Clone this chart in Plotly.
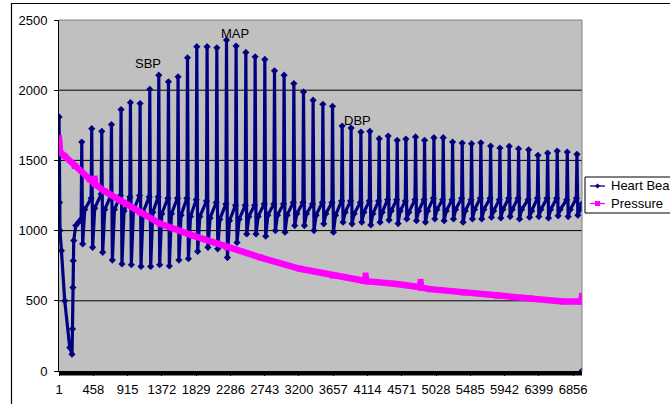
import plotly.graph_objects as go

# ---------------- data ----------------
x_tick_labels = ["1", "458", "915", "1372", "1829", "2286", "2743", "3200", "3657",
                 "4114", "4571", "5028", "5485", "5942", "6399", "6856"]
n_samples = 6974
y_tick_values = [0, 500, 1000, 1500, 2000, 2500]

# Heart beat: opening segment (cuff inflation drop and recovery)
start_idx = [1, 8, 14, 33, 77, 144, 174, 180, 186, 190, 197, 224, 262]
start_val = [1810, 1200, 1000, 857, 500, 167, 119, 300, 595, 786, 929, 1036, 1060]

# Heart beat: one entry per pulse
beat_idx = [304, 437, 571, 700, 828, 953, 1082, 1211, 1331, 1460, 1588, 1714, 1838,
            1975, 2105, 2234, 2362, 2492, 2616, 2745, 2874, 3002, 3132, 3261, 3389,
            3519, 3648, 3776, 3896, 4026, 4146, 4270, 4390, 4510, 4626, 4755, 4875,
            5000, 5124, 5249, 5377, 5502, 5626, 5756, 5880, 6004, 6129, 6263, 6387,
            6516, 6644, 6778, 6907]
beat_peak = [1631, 1726, 1707, 1755, 1862, 1912, 1905, 2007, 2107, 2060, 2095, 2231,
             2310, 2310, 2302, 2357, 2314, 2269, 2238, 2219, 2138, 2107, 2048, 1988,
             1929, 1900, 1886, 1745, 1731, 1702, 1707, 1655, 1674, 1643, 1652, 1667,
             1643, 1662, 1662, 1631, 1624, 1619, 1626, 1602, 1588, 1600, 1583, 1576,
             1536, 1552, 1567, 1560, 1543]
beat_trough = [905, 881, 845, 790, 762, 757, 745, 745, 757, 748, 790, 800, 852, 881,
               870, 808, 915, 976, 976, 960, 1000, 988, 1036, 1036, 1000, 1048, 988,
               1060, 1048, 1060, 1040, 1060, 1075, 1050, 1083, 1071, 1060, 1083, 1071,
               1083, 1060, 1083, 1083, 1095, 1090, 1100, 1083, 1095, 1100, 1090, 1105,
               1100, 1110]
beat_base_hi = [1080, 1230, 1260, 1250, 1250, 1240, 1250, 1240, 1240, 1230, 1230, 1230,
                1220, 1210, 1200, 1190, 1180, 1180, 1180, 1190, 1190, 1190, 1200, 1200,
                1190, 1200, 1200, 1210, 1210, 1200, 1210, 1210, 1220, 1220, 1210, 1220,
                1220, 1230, 1220, 1220, 1230, 1220, 1230, 1230, 1220, 1230, 1230, 1220,
                1230, 1230, 1230, 1220, 1230]
beat_base_lo = [1150, 1160, 1150, 1150, 1140, 1140, 1130, 1130, 1120, 1120, 1110, 1100,
                1100, 1090, 1080, 1070, 1080, 1100, 1100, 1110, 1110, 1110, 1120, 1120,
                1110, 1120, 1110, 1130, 1120, 1130, 1120, 1130, 1140, 1140, 1130, 1140,
                1140, 1150, 1140, 1150, 1140, 1150, 1150, 1140, 1150, 1150, 1150, 1140,
                1150, 1150, 1150, 1150, 1150]
end_idx = [6973, 6974]
end_val = [1190, 0]

# Pressure (cuff deflation curve)
pressure_idx = [1, 6, 14, 77, 210, 410, 474, 477, 480, 610, 811, 1078, 1345, 1785,
                2239, 2679, 3213, 3653, 4053, 4086, 4089, 4092, 4506, 4819, 4822, 4825,
                4946, 5386, 5840, 6280, 6721, 6961, 6971, 6974]
pressure_val = [1660, 1600, 1560, 1530, 1460, 1365, 1335, 1371, 1332, 1280, 1215, 1130,
                1050, 964, 881, 810, 728, 679, 643, 641, 680, 640, 619, 596, 635, 595,
                583, 560, 536, 517, 495, 495, 497, 536]

label_text = ["SBP", "MAP", "DBP"]
label_x = [1191, 2345, 3986]
label_y = [2193, 2407, 1787]

# legend labels as visible in the (cropped) reference
legend_names = ["Heart Bea", "Pressure"]

# ---------------- build series ----------------
beat_shape_offsets = [-8, 0, 12, 40]
hx, hy = list(start_idx), list(start_val)
for p, pk, tr, hi, lo in zip(beat_idx, beat_peak, beat_trough, beat_base_hi, beat_base_lo):
    hx += [p + o for o in beat_shape_offsets]
    hy += [hi, pk, tr, lo]
hx += [end_idx[0], None, end_idx[1]]
hy += [end_val[0], None, end_val[1]]

NAVY = "#000080"
PINK = "#FF00FF"
FONT = "Arial, 'Liberation Sans', sans-serif"

fig = go.Figure()
fig.add_trace(go.Scatter(x=hx, y=hy, mode="lines+markers",
                         line=dict(color=NAVY, width=3.2),
                         marker=dict(symbol="diamond", size=5.5, color=NAVY),
                         name="Heart Beat", showlegend=False, connectgaps=False,
                         hoverinfo="skip"))
fig.add_trace(go.Scatter(x=pressure_idx, y=pressure_val, mode="lines+markers",
                         line=dict(color=PINK, width=6.5),
                         marker=dict(symbol="square", size=6, color=PINK),
                         name="Pressure", showlegend=False, hoverinfo="skip"))

# ---------------- layout geometry (pixels) ----------------
W, H = 670, 404
L, R, T, B = 59, 582, 20, 371
PW, PH = R - L, B - T


def px(x):
    return (x - L) / PW


def py(y):
    return (B - y) / PH


shapes = []
for v in y_tick_values[1:-1]:
    shapes.append(dict(type="line", xref="paper", yref="y", x0=0, x1=1, y0=v, y1=v,
                       line=dict(color="black", width=1), layer="below"))
shapes.append(dict(type="line", xref="paper", yref="paper", x0=0, x1=1, y0=1, y1=1,
                   line=dict(color="#808080", width=1), layer="above"))
shapes.append(dict(type="line", xref="paper", yref="paper", x0=1, x1=1, y0=0, y1=1,
                   line=dict(color="#808080", width=1), layer="above"))
shapes.append(dict(type="rect", xref="paper", yref="paper", x0=0, x1=1,
                   y0=py(B + 4.5), y1=0, fillcolor="black", line=dict(width=0),
                   layer="above"))
shapes.append(dict(type="rect", xref="paper", yref="paper", x0=px(11.5), x1=px(720),
                   y0=py(450), y1=py(3.5), line=dict(color="black", width=1.2),
                   fillcolor="rgba(0,0,0,0)", layer="above"))
LG_L, LG_T, LG_B = 585, 177, 213
shapes.append(dict(type="rect", xref="paper", yref="paper", x0=px(LG_L), x1=px(720),
                   y0=py(LG_B), y1=py(LG_T), line=dict(color="black", width=1),
                   fillcolor="white", layer="above"))
legend_rows = [186, 203.5]
for row, col in zip(legend_rows, [NAVY, PINK]):
    shapes.append(dict(type="line", xref="paper", yref="paper", x0=px(590), x1=px(605),
                       y0=py(row), y1=py(row), line=dict(color=col, width=1.3),
                       layer="above"))
cx, cy = 597.5, legend_rows[0]
shapes.append(dict(type="path", xref="paper", yref="paper",
                   path=f"M {px(cx-2.5)} {py(cy)} L {px(cx)} {py(cy-2.5)} L {px(cx+2.5)} {py(cy)} L {px(cx)} {py(cy+2.5)} Z",
                   fillcolor=NAVY, line=dict(width=0), layer="above"))
cx, cy = 597.5, legend_rows[1]
shapes.append(dict(type="rect", xref="paper", yref="paper", x0=px(cx-2.5), x1=px(cx+2.5),
                   y0=py(cy+2.5), y1=py(cy-2.5), fillcolor=PINK, line=dict(width=0),
                   layer="above"))

annotations = []
for t, x, y in zip(label_text, label_x, label_y):
    annotations.append(dict(x=x, y=y, xref="x", yref="y", text=t, showarrow=False,
                            font=dict(family=FONT, size=13, color="black")))
for row, name in zip(legend_rows, legend_names):
    annotations.append(dict(x=px(609), y=py(row), xref="paper", yref="paper", text=name,
                            showarrow=False, xanchor="left", yanchor="middle",
                            font=dict(family=FONT, size=13, color="black")))

fig.update_layout(
    width=W, height=H,
    margin=dict(l=L, r=W - R, t=T, b=H - B, pad=0, autoexpand=False),
    paper_bgcolor="white", plot_bgcolor="#C0C0C0",
    font=dict(family=FONT, size=13, color="black"),
    shapes=shapes, annotations=annotations, showlegend=False,
    xaxis=dict(range=[0.5, n_samples + 0.5], tickvals=[int(s) for s in x_tick_labels],
               ticktext=x_tick_labels, showgrid=False, zeroline=False, showline=True,
               linecolor="black", linewidth=1, ticks="outside", ticklen=4,
               tickcolor="black", tickfont=dict(size=13), ticklabelstandoff=2),
    yaxis=dict(range=[0, 2500], tickvals=y_tick_values, showgrid=False, zeroline=False,
               showline=True, linecolor="black", linewidth=1, ticks="outside",
               ticklen=4, tickcolor="black", tickfont=dict(size=13),
               ticklabelstandoff=4),
)

fig.write_html("out.html", config={"displayModeBar": False},
               post_script="document.body.style.margin='0';document.body.style.overflow='hidden';")
